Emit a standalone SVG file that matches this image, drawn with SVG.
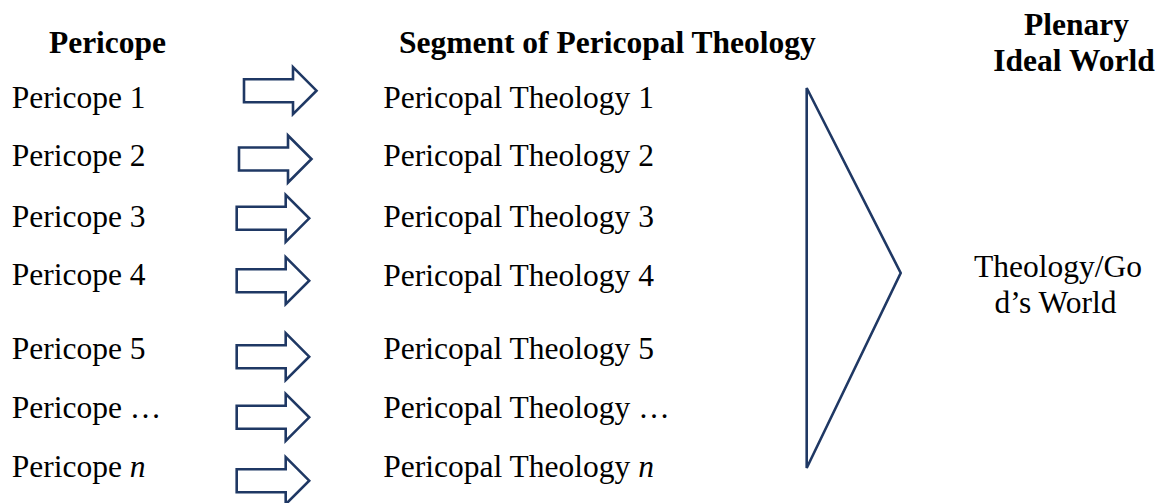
<svg xmlns="http://www.w3.org/2000/svg" width="1164" height="503" viewBox="0 0 1164 503">
<style>
.txt text{font-family:'Liberation Serif','DejaVu Serif',serif;font-size:31.5px;fill:#000}
.b{font-weight:bold}
.arrow{fill:#fff;stroke:#1F3864;stroke-width:2.6;stroke-linejoin:miter}
.tri{fill:#fff;stroke:#1F3864;stroke-width:2.6}
</style>
<defs>
<path id="arr" class="arrow" d="M0,-11.5 H49 V-23.5 L72.5,0 L49,23.5 V11.5 H0 Z"/>
</defs>
<rect width="1164" height="503" fill="#fff"/>
<g class="txt" font-family="Liberation Serif, serif">
<g id="headers">
<text class="b" x="107.5" y="53" text-anchor="middle">Pericope</text>
<text class="b" x="399" y="53">Segment of Pericopal Theology</text>
<text class="b" x="1076.5" y="35" text-anchor="middle">Plenary</text>
<text class="b" x="1074" y="70.5" text-anchor="middle">Ideal World</text>
</g>
<g id="pericopes">
<text id="p1" x="11.7" y="108.3">Pericope 1</text>
<text id="p2" x="11.7" y="166">Pericope 2</text>
<text id="p3" x="11.7" y="226.7">Pericope 3</text>
<text id="p4" x="11.7" y="285">Pericope 4</text>
<text id="p5" x="11.7" y="359.3">Pericope 5</text>
<text id="p6" x="11.7" y="418.3">Pericope …</text>
<text id="p7" x="11.7" y="477.3">Pericope <tspan font-style="italic">n</tspan></text>
</g>
<g id="theologies">
<text id="t1" x="383.3" y="108.3">Pericopal Theology 1</text>
<text id="t2" x="383.3" y="166">Pericopal Theology 2</text>
<text id="t3" x="383.3" y="226.7">Pericopal Theology 3</text>
<text id="t4" x="383.3" y="285.5">Pericopal Theology 4</text>
<text id="t5" x="383.3" y="359.3">Pericopal Theology 5</text>
<text id="t6" x="383.3" y="418.3">Pericopal Theology …</text>
<text id="t7" x="383.3" y="477.3">Pericopal Theology <tspan font-style="italic">n</tspan></text>
</g>
<g id="world">
<text x="1058" y="277.3" text-anchor="middle">Theology/Go</text>
<text x="1055.5" y="312.7" text-anchor="middle">d’s World</text>
</g>
</g>
<g id="connectors">
<use href="#arr" transform="translate(244,90.7)"/>
<use href="#arr" transform="translate(239,159)"/>
<use href="#arr" transform="translate(236.7,218.3)"/>
<use href="#arr" transform="translate(236.7,280.7)"/>
<use href="#arr" transform="translate(236.7,356.7)"/>
<use href="#arr" transform="translate(236.7,417.3)"/>
<use href="#arr" transform="translate(236.7,480.7)"/>
</g>
<g id="funnel">
<polygon class="tri" points="806.7,88 900.7,273 806.7,468"/>
</g>
</svg>
